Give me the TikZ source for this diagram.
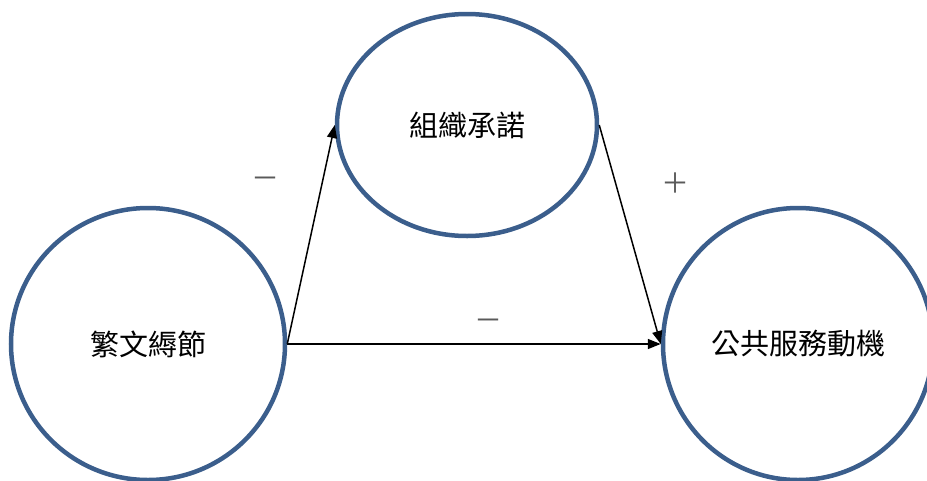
\documentclass[tikz,border=0pt]{standalone}
\usepackage{fontspec}
\newfontfamily\cjk{Noto Sans CJK TC}
\usetikzlibrary{arrows.meta, shapes.geometric}

\definecolor{circblue}{RGB}{59,94,140}
\definecolor{signgray}{RGB}{90,90,90}

\begin{document}
\begin{tikzpicture}[
    x=1pt, y=-1pt,
    >={Triangle[length=13pt, width=10pt]},
    % Define styles for the different node types
    varcircle/.style={ellipse, draw=circblue, line width=4.5pt, inner sep=0pt, font=\cjk\fontsize{29}{32}\selectfont},
    signlabel/.style={text=signgray, font=\cjk\fontsize{28}{30}\selectfont},
    path/.style={->, line width=1.5pt},
]
\useasboundingbox (0,0) rectangle (927,480);

% -------------------------
% Variable Nodes
% -------------------------
\begin{scope}
\clip (0,0) rectangle (927,480);
\node (redtape) [varcircle, minimum width=274pt, minimum height=272pt] at (148,344) {繁文縟節};
\node (commit) [varcircle, minimum width=260pt, minimum height=222pt] at (467,125) {組織承諾};
\node (psm) [varcircle, minimum width=270pt, minimum height=272pt] at (798,344) {公共服務動機};
\end{scope}

% -------------------------
% Arrow Connections
% -------------------------
\draw[path] (redtape.east) -- (commit.west);
\draw[path] (commit.east) -- (psm.west);
\draw[path] (redtape.east) -- (psm.west);

% Signs
\node (signa) [signlabel] at (265,183) {－};
\node (signb) [signlabel] at (675,183) {＋};
\node (signc) [signlabel] at (488,325) {－};

\end{tikzpicture}
\end{document}
